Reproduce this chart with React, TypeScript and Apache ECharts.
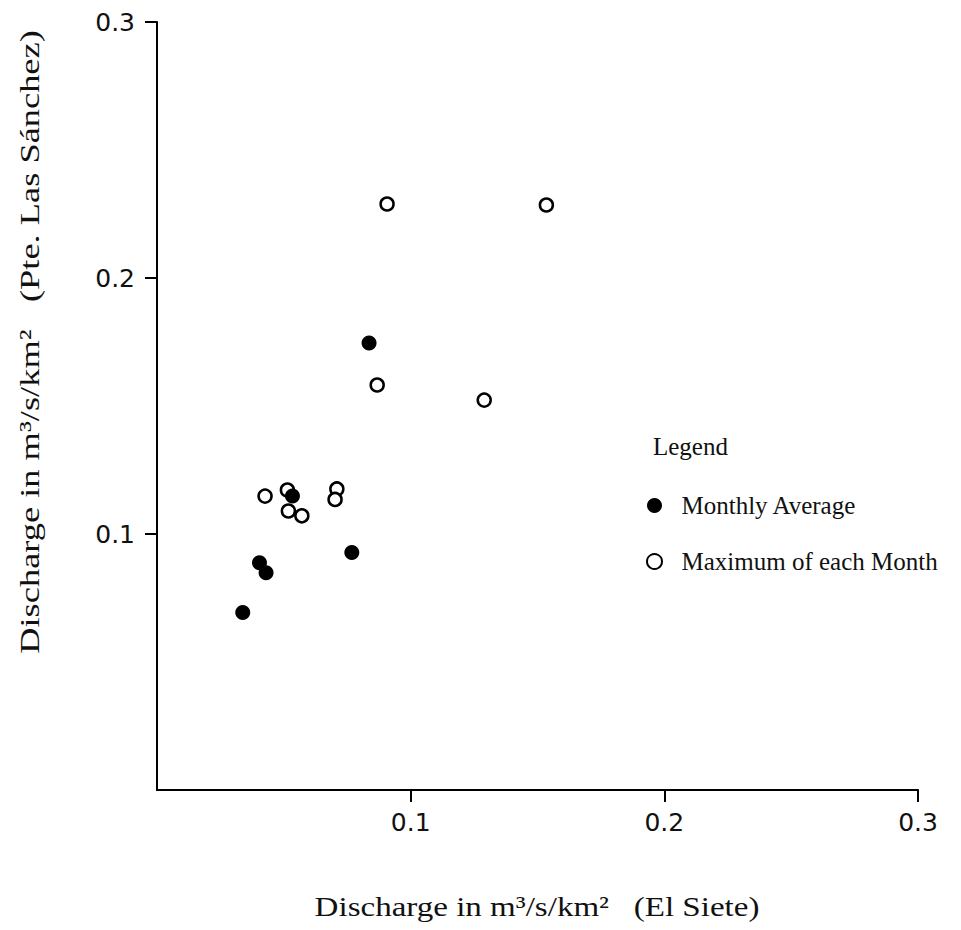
import React, { useEffect, useRef } from 'react';
import * as echarts from 'echarts';

// Monthly average discharge (filled circles)
const avgX = [0.0338, 0.0404, 0.0430, 0.0534, 0.0768, 0.0836];
const avgY = [0.0693, 0.0888, 0.0849, 0.1148, 0.0928, 0.1746];

// Maximum of each month (open circles)
const maxX = [0.0426, 0.0514, 0.0518, 0.0571, 0.0709, 0.0702, 0.0868, 0.0907, 0.1290, 0.1535];
const maxY = [0.1148, 0.1172, 0.1090, 0.1071, 0.1176, 0.1135, 0.1582, 0.2289, 0.1523, 0.2285];

const seriesNames = ['Monthly Average', 'Maximum of each Month'];
const xTitle = 'Discharge in m³/s/km²   (El Siete)';
const yTitle = 'Discharge in m³/s/km²   (Pte. Las Sánchez)';
const legendTitle = 'Legend';

export default function App() {
  const ref = useRef<HTMLDivElement>(null);
  useEffect(() => {
    const chart = echarts.init(ref.current!, null, { renderer: 'svg' });
    const tickFont = { fontFamily: 'DejaVu Sans', fontSize: 25, color: '#111' };
    const serif = 'Liberation Serif';
    const fmt = (v: number) => (v === 0 ? '' : v.toFixed(1));
    const axisCommon = {
      type: 'value',
      min: 0,
      max: 0.3,
      interval: 0.1,
      splitLine: { show: false },
      axisLine: { onZero: false, lineStyle: { color: '#000', width: 2 } },
      axisTick: { show: true, length: 12, lineStyle: { color: '#000', width: 2 } },
    };
    const titleStyle = { fontFamily: serif, fontSize: 28, fill: '#111', align: 'center', verticalAlign: 'middle' };
    chart.setOption({
      animation: false,
      backgroundColor: '#fff',
      grid: { left: 157, top: 22, width: 761, height: 768 },
      xAxis: {
        ...axisCommon,
        axisLabel: { ...tickFont, margin: 20, showMinLabel: false, formatter: fmt },
      },
      yAxis: {
        ...axisCommon,
        axisLabel: { ...tickFont, margin: 22, showMinLabel: false, formatter: fmt },
      },
      legend: {
        data: seriesNames,
        orient: 'vertical',
        left: 641,
        top: 488,
        itemWidth: 44,
        itemHeight: 15,
        itemGap: 31,
        selectedMode: false,
        textStyle: { fontFamily: serif, fontSize: 25, color: '#111', lineHeight: 25 },
      },
      graphic: [
        {
          type: 'text',
          x: 30,
          y: 342,
          rotation: Math.PI / 2,
          scaleX: 1.3,
          style: { ...titleStyle, text: yTitle },
        },
        {
          type: 'text',
          x: 537,
          y: 907,
          scaleX: 1.18,
          style: { ...titleStyle, text: xTitle },
        },
        {
          type: 'text',
          x: 653,
          y: 446,
          style: { text: legendTitle, fontFamily: serif, fontSize: 25, fill: '#111', align: 'left', verticalAlign: 'middle' },
        },
      ],
      series: [
        {
          name: seriesNames[1],
          type: 'scatter',
          data: maxX.map((x, i) => [x, maxY[i]]),
          symbol: 'circle',
          symbolSize: 13,
          itemStyle: { color: '#fff', borderColor: '#000', borderWidth: 2.5, opacity: 1 },
          emphasis: { disabled: true },
        },
        {
          name: seriesNames[0],
          type: 'scatter',
          data: avgX.map((x, i) => [x, avgY[i]]),
          symbol: 'circle',
          symbolSize: 15,
          itemStyle: { color: '#000', opacity: 1 },
          emphasis: { disabled: true },
        },
      ],
    });
    return () => chart.dispose();
  }, []);
  return <div ref={ref} style={{ position: 'absolute', left: 0, top: 0, width: 961, height: 930 }} />;
}
